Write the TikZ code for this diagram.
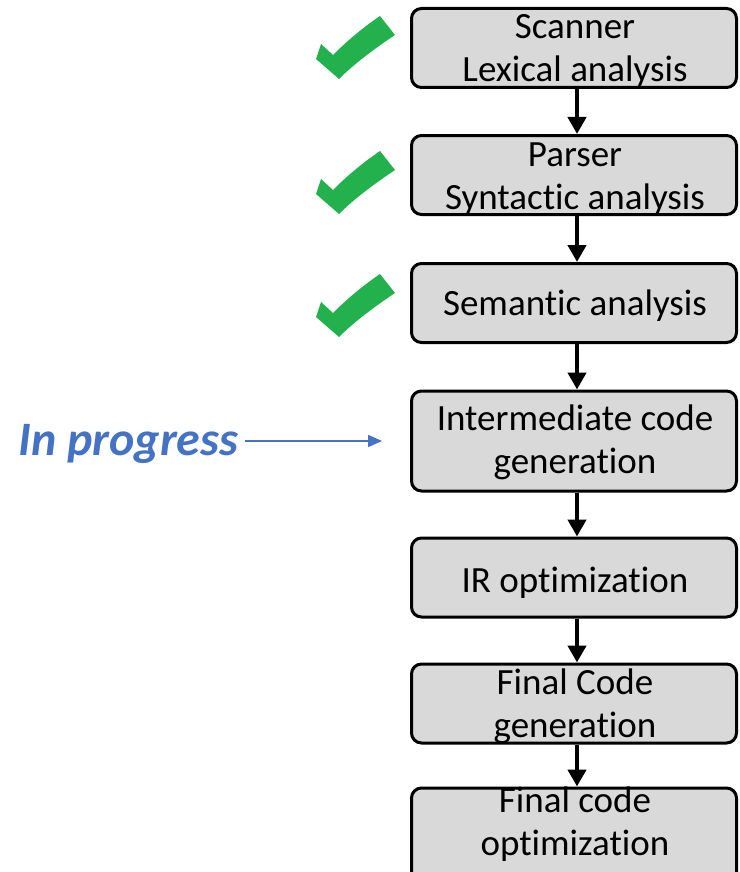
\documentclass[tikz,border=0pt]{standalone}
\usepackage{fontspec}
\setmainfont{Carlito}[Ligatures={NoCommon}]
\usetikzlibrary{arrows.meta}
\definecolor{boxgray}{HTML}{D9D9D9}
\definecolor{chkgreen}{HTML}{22B14C}
\definecolor{ipblue}{HTML}{4472C4}
\begin{document}
\begin{tikzpicture}[x=1pt,y=-1pt,
  stage/.style={draw=black, line width=3pt, fill=boxgray, rounded corners=10pt,
    minimum width=325pt, minimum height=79pt, inner sep=0pt},
  lbl/.style={align=center, font=\fontsize{37}{43}\selectfont, inner sep=0pt, anchor=base},
  flow/.style={line width=4.5pt, -{Triangle[length=17pt,width=18pt]}},
  chk/.pic={\fill[chkgreen] (0,0) -- (-23,-20) -- (-18,-35) -- (-6,-24)
     .. controls (10,-40) and (25,-52) .. (41,-63) -- (56,-44)
     .. controls (35,-30) and (15,-15) .. cycle;}]
\useasboundingbox (0,0) rectangle (739,872);
% boxes
\node[stage] (b1) at (574,48) {};
\node[stage] (b2) at (574,175) {};
\node[stage] (b3) at (574,303) {};
\node[stage, minimum height=100pt] (b4) at (574,441) {};
\node[stage] (b5) at (574,577.5) {};
\node[stage] (b6) at (574,703.5) {};
\node[stage, minimum height=98pt] (b7) at (574,837) {};
% labels (anchor at baseline of last line)
\node[lbl] (t1) at (575,82) {Scanner\\Lexical analysis};
\node[lbl] (t2) at (575,209) {Parser\\Syntactic analysis};
\node[lbl] (t3) at (575,315) {Semantic analysis};
\node[lbl] (t4) at (575,473) {Intermediate code\\generation};
\node[lbl] (t5) at (575,592) {IR optimization};
\node[lbl] (t6) at (575,737) {Final Code\\generation};
\node[lbl] (t7) at (575,855) {Final code\\optimization};
% flow arrows
\draw[flow] ([xshift=3pt]b1.south) -- ([xshift=3pt]b2.north);
\draw[flow] ([xshift=3pt]b2.south) -- ([xshift=3pt]b3.north);
\draw[flow] ([xshift=3pt]b3.south) -- ([xshift=3pt]b4.north);
\draw[flow] ([xshift=3pt]b4.south) -- ([xshift=3pt]b5.north);
\draw[flow] ([xshift=3pt]b5.south) -- ([xshift=3pt]b6.north);
\draw[flow] ([xshift=3pt]b6.south) -- ([xshift=3pt]b7.north);
% check marks
\pic at (339,79) {chk};
\pic at (339,214) {chk};
\pic at (339,337) {chk};
% in progress
\node[anchor=base west, inner sep=0pt, text=ipblue, font=\fontsize{48}{54}\selectfont\bfseries\itshape] (ip) at (18,455) {In progress};
\coordinate (ipend) at (382,441);
\draw[ipblue, line width=1.5pt, -{Triangle[length=14pt,width=12pt]}] ([xshift=6pt]ip.east |- ipend) -- (ipend);
\end{tikzpicture}
\end{document}
